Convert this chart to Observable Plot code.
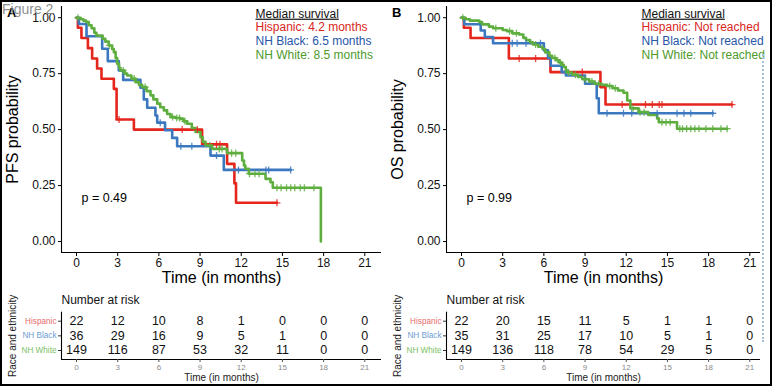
<!DOCTYPE html>
<html><head><meta charset="utf-8">
<script src="https://cdn.jsdelivr.net/npm/d3@7"></script>
<script src="https://cdn.jsdelivr.net/npm/@observablehq/plot@0.6"></script>
<style>
body{margin:0;background:#fff;}
#fig{position:relative;width:772px;height:386px;overflow:hidden;font-family:"Liberation Sans",Arial,sans-serif;background:#fff;}
.abs{position:absolute;}
#border{position:absolute;left:0;top:0;width:772px;height:386px;box-sizing:border-box;border:2px solid #000;pointer-events:none;}
.plab{position:absolute;font-weight:bold;font-size:13px;color:#000;}
#figt{position:absolute;left:2px;top:1px;font-size:14px;color:#8f8f8f;}
#wm{position:absolute;left:762px;top:54px;height:288px;width:0;border-left:2px dotted #aabed6;}
</style></head><body><div id="fig"></div>
<script>
// ---------- data ----------
const groups = ["Hispanic", "NH Black", "NH White"];
const lineColors = ["#E4261D", "#3C78C0", "#5EAE3F"];
const textColors = ["#D9261C", "#2756A8", "#4E9A2B"];
const labelColors = ["#E86A6A", "#6E9DD4", "#7CBF66"];
const xTicks = [0, 3, 6, 9, 12, 15, 18, 21];
const yTicks = [0, 0.25, 0.5, 0.75, 1];
const riskTimes = [0, 3, 6, 9, 12, 15, 18, 21];

// PFS (panel A)
const pfsHispanicT = [0.1, 0.36, 0.83, 1.14, 1.5, 1.82, 2.72, 2.92, 4.18, 9.15, 10.97, 11.5, 11.62];
const pfsHispanicS = [0.955, 0.909, 0.864, 0.818, 0.773, 0.727, 0.682, 0.545, 0.5, 0.434, 0.347, 0.26, 0.173];
const pfsHispanicEnd = 14.6;
const pfsHispanicCens = [3.1, 7.7, 8.8, 10.2, 10.45, 14.6];

const pfsBlackT = [0.17, 0.73, 1.87, 2.28, 3.08, 3.4, 4.66, 4.9, 5.15, 5.75, 5.88, 6.45, 6.97, 7.33, 9.76, 10.73];
const pfsBlackS = [0.972, 0.917, 0.861, 0.806, 0.764, 0.722, 0.687, 0.635, 0.598, 0.563, 0.531, 0.497, 0.463, 0.426, 0.384, 0.32];
const pfsBlackEnd = 15.6;
const pfsBlackCens = [6.1, 7.6, 8.4, 10.2, 11.8, 13.8, 14.0, 15.6];

const pfsWhiteT = [0.3,0.5,0.7,0.9,1.1,1.3,1.45,1.9,2.1,2.35,2.6,2.72,2.85,2.96,3.1,3.2,3.5,3.69,4.0,4.3,4.55,4.78,5.1,5.39,5.6,5.88,6.1,6.36,6.6,6.85,7.2,7.57,7.8,8.06,8.4,8.67,9.03,9.2,9.4,9.88,10.97,12.07,12.2,12.3,12.55,13.77,14.13,14.3,17.8];
const pfsWhiteS = [0.993,0.987,0.98,0.966,0.953,0.933,0.92,0.906,0.893,0.876,0.86,0.846,0.82,0.794,0.775,0.764,0.75,0.742,0.728,0.712,0.7,0.69,0.672,0.653,0.635,0.616,0.6,0.586,0.57,0.556,0.552,0.548,0.537,0.526,0.507,0.489,0.466,0.445,0.429,0.414,0.395,0.362,0.34,0.325,0.303,0.28,0.265,0.24,0];
const pfsWhiteEnd = 17.8;
const pfsWhiteCens = [0.1, 2.4, 3.4, 4.2, 5.0, 7.0, 7.3, 7.5, 7.9, 9.7, 10.4, 10.6, 11.3, 11.6, 12.6, 13.0, 13.3, 14.6, 14.9, 15.3, 15.6, 15.9, 16.3, 16.6, 17.3];

const pfsRiskHispanic = [22, 12, 10, 8, 1, 0, 0, 0];
const pfsRiskBlack = [36, 29, 16, 9, 5, 1, 0, 0];
const pfsRiskWhite = [149, 116, 87, 53, 32, 11, 0, 0];

// OS (panel B)
const osHispanicT = [0.17, 0.66, 3.45, 6.48, 10.12, 10.49];
const osHispanicS = [0.955, 0.909, 0.818, 0.757, 0.69, 0.612];
const osHispanicEnd = 19.7;
const osHispanicCens = [4.2, 5.4, 8.8, 11.7, 13.4, 13.9, 14.4, 14.6, 19.7];

const osBlackT = [0.2, 1.4, 1.7, 2.3, 6.0, 6.3, 6.5, 7.3, 7.6, 9.0, 9.85, 10.0];
const osBlackS = [0.971, 0.943, 0.914, 0.886, 0.854, 0.82, 0.785, 0.757, 0.742, 0.705, 0.64, 0.573];
const osBlackEnd = 18.3;
const osBlackCens = [3.7, 4.05, 4.7, 5.75, 10.6, 11.8, 12.4, 14.25, 15.7, 16.2, 16.7, 18.3];

const osWhiteT = [0.3,0.6,1.3,1.5,2.0,2.3,3.0,3.3,3.7,4.2,4.5,4.7,5.0,5.2,5.6,5.9,6.1,6.4,6.6,6.9,7.1,7.3,7.45,7.6,7.7,8.06,8.5,8.8,9.3,9.7,10.2,10.6,11.0,11.4,11.8,12.07,12.3,12.9,13.6,14.25,14.37,15.7];
const osWhiteS = [0.993,0.987,0.98,0.97,0.96,0.953,0.945,0.94,0.93,0.925,0.91,0.9,0.89,0.88,0.87,0.86,0.845,0.83,0.82,0.81,0.8,0.79,0.78,0.765,0.755,0.745,0.735,0.725,0.715,0.705,0.7,0.695,0.685,0.675,0.665,0.63,0.595,0.578,0.565,0.55,0.533,0.504];
const osWhiteEnd = 19.35;
const osWhiteCens = [0.1, 2.5, 3.5, 4.0, 5.4, 6.8, 7.2, 7.8, 8.3, 9.0, 9.5, 10.0, 10.8, 11.2, 12.5, 13.0, 13.3, 14.6, 14.9, 15.2, 15.9, 16.1, 16.4, 16.7, 17.0, 17.3, 17.8, 18.3, 18.9, 19.35];

const osRiskHispanic = [22, 20, 15, 11, 5, 1, 1, 0];
const osRiskBlack = [35, 31, 25, 17, 10, 5, 1, 0];
const osRiskWhite = [149, 136, 118, 78, 54, 29, 5, 0];

const pfsMedians = ["Hispanic: 4.2 months", "NH Black: 6.5 months", "NH White: 8.5 months"];
const osMedians = ["Hispanic: Not reached", "NH Black: Not reached", "NH White: Not reached"];

// ---------- helpers ----------
const FONT = '"Liberation Sans", Arial, sans-serif';
const fig = document.getElementById("fig");
function place(node, left, top) {
  const d = document.createElement("div");
  d.className = "abs"; d.style.left = left + "px"; d.style.top = top + "px";
  d.appendChild(node); fig.appendChild(d);
  return node;
}
function survAt(T, S, t) {
  let s = 1;
  for (let i = 0; i < T.length; i++) if (T[i] <= t) s = S[i];
  return s;
}
function series(T, S, end) {
  const pts = [{t: 0, s: 1}, ...T.map((t, i) => ({t, s: S[i]}))];
  if (end > T[T.length - 1]) pts.push({t: end, s: S[S.length - 1]});
  return pts;
}

function kmPanel(cfg) {
  const W = cfg.width, xmin = cfg.xmin, xmax = cfg.xmax;
  const ymin = -0.049, ymax = 1.05;
  const marks = [
    Plot.ruleX([xmin], {stroke: "#000", strokeWidth: 1.1}),
    Plot.ruleY([ymin], {stroke: "#000", strokeWidth: 1.1}),
    Plot.axisY(yTicks, {tickFormat: d3.format(".2f"), tickSize: 3, tickPadding: 3, fontSize: 12, label: null, fill: "#111"}),
    Plot.axisX(xTicks, {tickSize: 4, tickPadding: 2, fontSize: 12, label: null, fill: "#111"})
  ];
  cfg.data.forEach((g, i) => {
    marks.push(Plot.line(series(g.T, g.S, g.end), {x: "t", y: "s", curve: "step-after", stroke: lineColors[i], strokeWidth: 2.6}));
  });
  cfg.data.forEach((g, i) => {
    const cens = g.C.map(t => ({t, s: survAt(g.T, g.S, t)}));
    marks.push(Plot.dot(cens, {x: "t", y: "s", symbol: "plus", r: 2.4, stroke: lineColors[i], strokeWidth: 1.3, strokeOpacity: 0.85}));
  });
  marks.push(Plot.text([cfg.ylabel], {frameAnchor: "left", textAnchor: "middle", lineAnchor: "middle", rotate: -90, dx: -49, fontSize: 16}));
  marks.push(Plot.text(["Time (in months)"], {frameAnchor: "bottom", textAnchor: "middle", lineAnchor: "middle", dy: 25.5, fontSize: 16}));
  marks.push(Plot.text([cfg.p], {frameAnchor: "top-left", lineAnchor: "middle", dx: 20, dy: 191.3, textAnchor: "start", fontSize: 12.5}));
  marks.push(Plot.text(["Median survival"], {frameAnchor: "top-left", lineAnchor: "middle", dx: cfg.legDx, dy: 7.3, textAnchor: "start", fontSize: 12, fill: "#111"}));
  cfg.medians.forEach((m, i) => {
    marks.push(Plot.text([m], {frameAnchor: "top-left", lineAnchor: "middle", dx: cfg.legDx, dy: 20.9 + 13.8 * i, textAnchor: "start", fontSize: 12, fill: textColors[i]}));
  });
  const svg = Plot.plot({
    width: W, height: 280,
    marginLeft: 61, marginRight: 5, marginTop: 6, marginBottom: 28,
    x: {domain: [xmin, xmax]},
    y: {domain: [ymin, ymax]},
    style: {fontFamily: FONT, background: "transparent", color: "#000", overflow: "visible"},
    marks
  });
  svg.querySelectorAll("text").forEach(t => {
    if (t.textContent === "Median survival") t.style.textDecoration = "underline";
  });
  return svg;
}

function riskPanel(cfg) {
  const W = cfg.width, xmin = cfg.xmin, xmax = cfg.xmax;
  const rows = [];
  cfg.risk.forEach((arr, r) => arr.forEach((n, j) => rows.push({t: riskTimes[j], row: r, n: String(n)})));
  const marks = [
    Plot.ruleX([xmin], {stroke: "#000", strokeWidth: 1.1}),
    Plot.ruleY([2.615], {stroke: "#000", strokeWidth: 1.1}),
    Plot.axisX(xTicks, {tickSize: 3, tickPadding: 2, fontSize: 8, label: null, fill: "#8a8a8a", stroke: "#555"})
  ];
  groups.forEach((g, i) => {
    marks.push(Plot.axisY([i], {tickFormat: () => g, tickSize: 3, tickPadding: 2, fontSize: 8.2, label: null, fill: labelColors[i], stroke: "#333"}));
  });
  marks.push(Plot.text(rows, {x: "t", y: "row", text: "n", fontSize: 12.5, fill: "#111"}));
  marks.push(Plot.text(["Number at risk"], {frameAnchor: "top-left", lineAnchor: "middle", dy: -11.7, textAnchor: "start", fontSize: 12, fill: "#111"}));
  marks.push(Plot.text(["Time (in months)"], {frameAnchor: "bottom", lineAnchor: "middle", textAnchor: "middle", dy: 18, fontSize: 10, fill: "#222"}));
  marks.push(Plot.text(["Race and ethnicity"], {frameAnchor: "left", lineAnchor: "middle", textAnchor: "middle", rotate: -90, dx: -48.3, fontSize: 10, fill: "#222"}));
  return Plot.plot({
    width: W, height: 100,
    marginLeft: 61, marginRight: 5, marginTop: 25.7, marginBottom: 27,
    x: {domain: [xmin, xmax]},
    y: {domain: [-0.615, 2.615], reverse: true},
    style: {fontFamily: FONT, background: "transparent", color: "#000", overflow: "visible"},
    marks
  });
}

// pixel geometry: 0 months at 76px, 21 months at 364.3px within each panel
const pxPerMonth = (364.3 - 76) / 21;
const xminA = (61 - 76) / pxPerMonth;
const xmaxA = (381 - 76) / pxPerMonth;
const xmaxB = (375 - 76) / pxPerMonth;

place(kmPanel({
  width: 386, xmin: xminA, xmax: xmaxA, ylabel: "PFS probability", p: "p = 0.49", legDx: 194,
  medians: pfsMedians,
  data: [
    {T: pfsHispanicT, S: pfsHispanicS, end: pfsHispanicEnd, C: pfsHispanicCens},
    {T: pfsBlackT, S: pfsBlackS, end: pfsBlackEnd, C: pfsBlackCens},
    {T: pfsWhiteT, S: pfsWhiteS, end: pfsWhiteEnd, C: pfsWhiteCens}
  ]
}), 0, 0);
place(riskPanel({width: 386, xmin: xminA, xmax: xmaxA, risk: [pfsRiskHispanic, pfsRiskBlack, pfsRiskWhite]}), 0, 286);

place(kmPanel({
  width: 380, xmin: xminA, xmax: xmaxB, ylabel: "OS probability", p: "p = 0.99", legDx: 195,
  medians: osMedians,
  data: [
    {T: osHispanicT, S: osHispanicS, end: osHispanicEnd, C: osHispanicCens},
    {T: osBlackT, S: osBlackS, end: osBlackEnd, C: osBlackCens},
    {T: osWhiteT, S: osWhiteS, end: osWhiteEnd, C: osWhiteCens}
  ]
}), 385, 0);
place(riskPanel({width: 380, xmin: xminA, xmax: xmaxB, risk: [osRiskHispanic, osRiskBlack, osRiskWhite]}), 385, 286);

// labels & frame
const addDiv = (cls, id, txt, left, top) => {
  const d = document.createElement("div");
  if (cls) d.className = cls; if (id) d.id = id;
  d.textContent = txt;
  if (left != null) { d.style.left = left + "px"; d.style.top = top + "px"; }
  fig.appendChild(d);
};
addDiv("plab", null, "A", 7, 5);
addDiv("plab", null, "B", 392, 5);
addDiv(null, "figt", "Figure 2");
addDiv(null, "wm", "");
addDiv(null, "border", "");
</script></body></html>
